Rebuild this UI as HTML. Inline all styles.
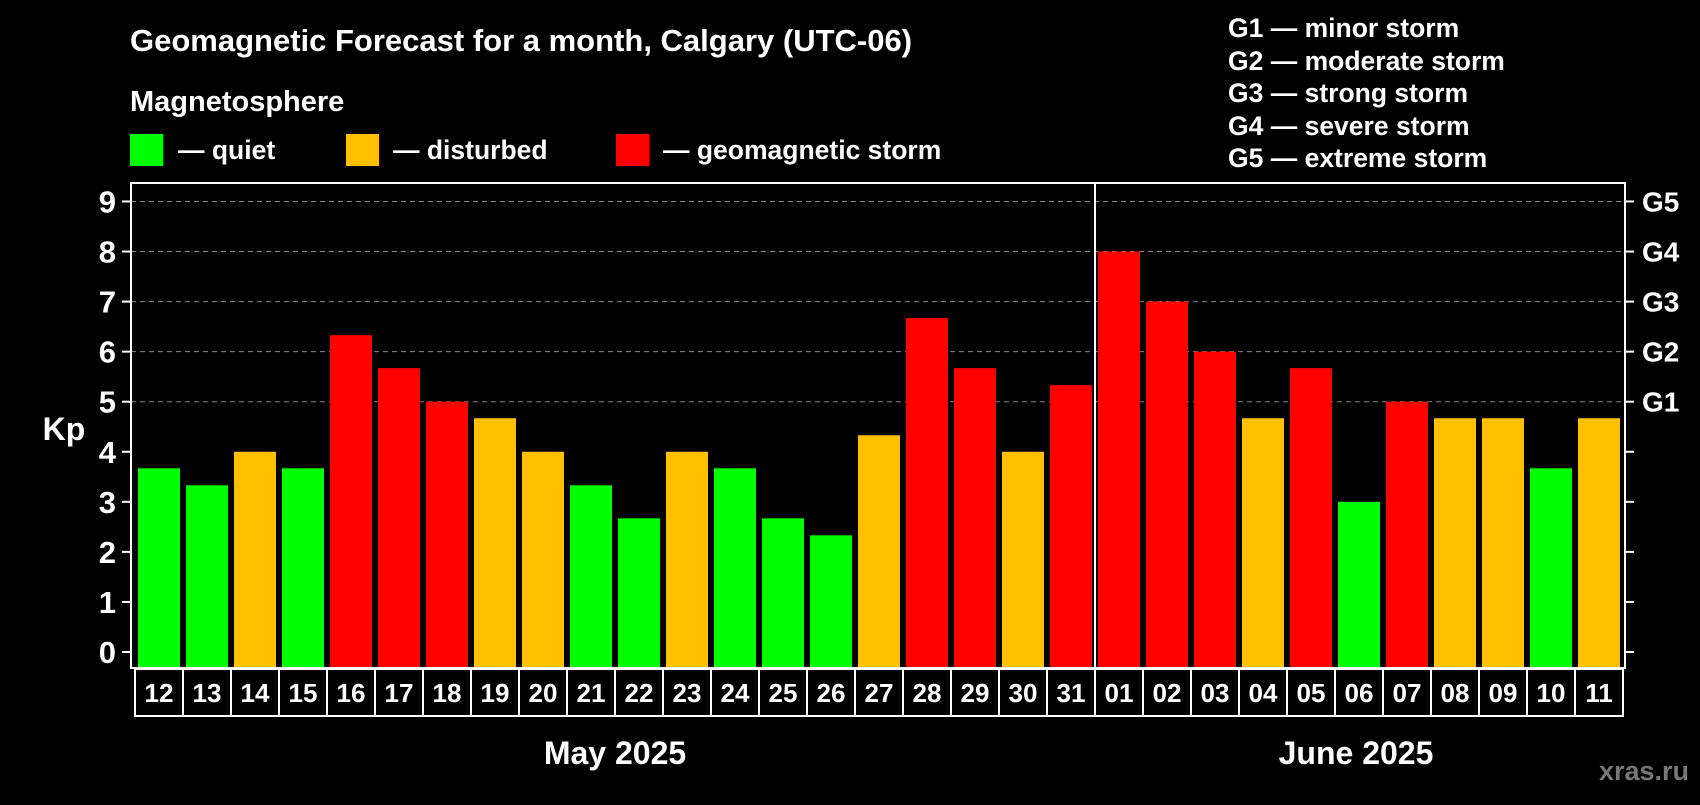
<!DOCTYPE html>
<html><head><meta charset="utf-8"><style>
body{margin:0;background:#000;width:1700px;height:800px;overflow:hidden;font-family:"Liberation Sans",sans-serif;}
svg text{font-family:"Liberation Sans",sans-serif;font-weight:bold;fill:#fff;}
</style></head><body>
<svg id="c" width="1700" height="800" xmlns="http://www.w3.org/2000/svg">
<text x="130" y="51" font-size="31">Geomagnetic Forecast for a month, Calgary (UTC-06)</text>
<text x="130" y="111" font-size="29">Magnetosphere</text>
<rect x="130" y="134" width="33" height="32" fill="#00ff00"/>
<text x="178" y="159" font-size="26.5">— quiet</text>
<rect x="346" y="134" width="33" height="32" fill="#ffc000"/>
<text x="393" y="159" font-size="26.5">— disturbed</text>
<rect x="616" y="134" width="33" height="32" fill="#ff0000"/>
<text x="663" y="159" font-size="26.5">— geomagnetic storm</text>
<g font-size="26.5">
<text x="1228" y="37">G1 — minor storm</text>
<text x="1228" y="70">G2 — moderate storm</text>
<text x="1228" y="102">G3 — strong storm</text>
<text x="1228" y="135">G4 — severe storm</text>
<text x="1228" y="167">G5 — extreme storm</text>
</g>
<text x="64" y="440" font-size="32" text-anchor="middle">Kp</text>
<g id="grid"></g><g id="bars"></g><g id="axes"></g>
<text x="615" y="764" font-size="32" text-anchor="middle">May 2025</text>
<text x="1356" y="764" font-size="32" text-anchor="middle">June 2025</text>
<text x="1689" y="780" font-size="27" text-anchor="end" style="fill:#777">xras.ru</text>
</svg>
<script>
const days=["12","13","14","15","16","17","18","19","20","21","22","23","24","25","26","27","28","29","30","31","01","02","03","04","05","06","07","08","09","10","11"];
const kpValues=[3.67,3.33,4,3.67,6.33,5.67,5,4.67,4,3.33,2.67,4,3.67,2.67,2.33,4.33,6.67,5.67,4,5.33,8,7,6,4.67,5.67,3,5,4.67,4.67,3.67,4.67];
const yTicks=[0,1,2,3,4,5,6,7,8,9];
const gLabels=["","","","","","G1","G2","G3","G4","G5"];
const NS="http://www.w3.org/2000/svg";
const L=131,R=1625,T=183,B=668;
const y=v=>652-v*50.06;
const x0=i=>138+i*48;
function mk(t,a,p){const e=document.createElementNS(NS,t);for(const k in a)e.setAttribute(k,a[k]);p.appendChild(e);return e;}
const grid=document.getElementById('grid'),bars=document.getElementById('bars'),axes=document.getElementById('axes');
yTicks.forEach((v,i)=>{
 if(v>=5){const g=mk('line',{x1:L,x2:R,y1:y(v),y2:y(v),stroke:'#888','stroke-dasharray':'5,4','stroke-width':1},grid);
 
 }
 const t1=mk('line',{x1:122,x2:L,y1:y(v),y2:y(v),stroke:'#fff','stroke-width':2},axes);
 
 
 const t2=mk('line',{x1:R,x2:1634,y1:y(v),y2:y(v),stroke:'#fff','stroke-width':2},axes);
 
 
 const lb=mk('text',{x:116,y:y(v)+11,'font-size':31,'text-anchor':'end'},axes);lb.textContent=v;
 
 
 if(gLabels[i]){const g2=mk('text',{x:1642,y:y(v)+10,'font-size':28},axes);g2.textContent=gLabels[i];
 
 }
});
kpValues.forEach((v,i)=>{
 const c=v<4?'#00ff00':(v<5?'#ffc000':'#ff0000');
 const b=mk('rect',{x:x0(i),y:y(v),width:42,height:B-y(v),fill:c},bars);
 
 
 const bx=mk('rect',{x:135+i*48,y:669,width:48,height:47,fill:'none',stroke:'#fff','stroke-width':2},axes);
 
 
 const t=mk('text',{x:159+i*48,y:702,'font-size':26,'text-anchor':'middle'},axes);t.textContent=days[i];
 
 
});
const fr=mk('rect',{x:L,y:T,width:R-L,height:B-T,fill:'none',stroke:'#fff','stroke-width':2},axes);


const md=mk('line',{x1:1095,x2:1095,y1:T,y2:B,stroke:'#fff','stroke-width':2},axes);


</script>
</body></html>
